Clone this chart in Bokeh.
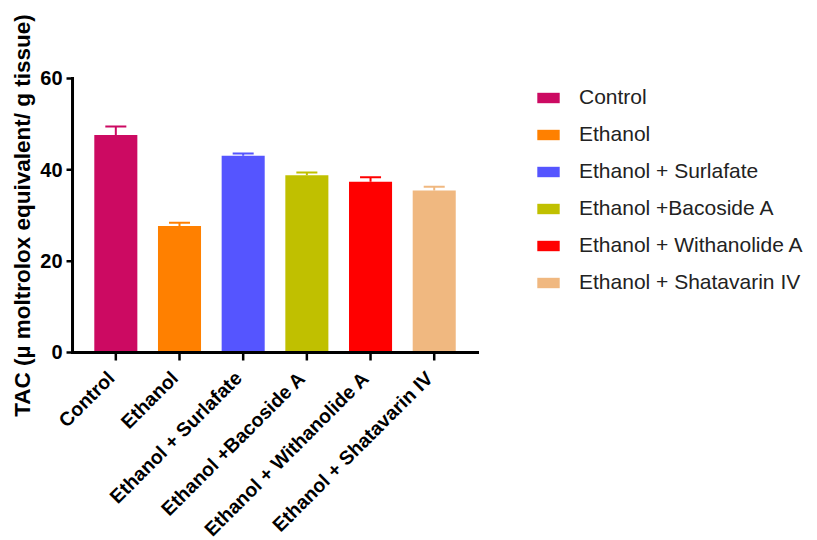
import math

from bokeh.core.properties import value
from bokeh.embed import file_html
from bokeh.resources import INLINE
from bokeh.plotting import figure
from bokeh.models import ColumnDataSource, Legend, LegendItem

# Treatment groups, mean TAC and SEM
groups = ["Control", "Ethanol", "Ethanol + Surlafate", "Ethanol +Bacoside A",
          "Ethanol + Withanolide A", "Ethanol + Shatavarin IV"]
tac_mean = [47.6, 27.7, 43.1, 38.8, 37.4, 35.5]
tac_sem = [1.9, 0.7, 0.5, 0.6, 1.0, 0.8]
colors = ["#cc0a62", "#ff8000", "#5555ff", "#c0c000", "#ff0000", "#f0b880"]
y_ticks = [0, 20, 40, 60]
y_title = "TAC (µ moltrolox equivalent/ g tissue)"

xs = list(range(1, len(groups) + 1))
cap = 0.165

# the axes are drawn by hand so the slanted names can hang past the corner;
# the canvas-wide frame maps x 0.32..6.68 and y 0..60 onto the plotting box
x_lo, x_hi = 0.32, 6.68
y_lo, y_hi = 0, 60
view_x = (-0.811, 12.019)
view_y = (-41.17, 77.08)

src = ColumnDataSource(dict(
    x=xs, top=tac_mean, err_top=[m + s for m, s in zip(tac_mean, tac_sem)],
    cap_l=[x - cap for x in xs], cap_r=[x + cap for x in xs],
    zero=[0] * len(xs), color=colors, group=groups,
))
ysrc = ColumnDataSource(dict(y=y_ticks, lo=[x_lo] * len(y_ticks),
                             lab=[str(t) for t in y_ticks]))

p = figure(width=817, height=540, output_backend="svg", toolbar_location=None,
           x_range=view_x, y_range=view_y,
           x_axis_location=None, y_axis_location=None, min_border=0)
p.outline_line_color = None
p.grid.visible = False
p.background_fill_color = "white"
p.border_fill_color = "white"

bars = p.vbar(x="x", top="top", width=0.676, bottom=0, source=src,
              fill_color="color", line_color=None)

# SEM whiskers, upper half only, in the bar's colour
p.segment(x0="x", y0="top", x1="x", y1="err_top", source=src,
          line_color="color", line_width=2)
p.segment(x0="cap_l", y0="err_top", x1="cap_r", y1="err_top", source=src,
          line_color="color", line_width=2)

font = value("Liberation Sans")

# category axis: base line, outward ticks and slanted group names
p.segment(x0=[x_lo], y0=[y_lo], x1=[x_hi], y1=[y_lo], line_color="black",
          line_width=3, line_cap="square")
p.ray(x="x", y="zero", length=8, length_units="screen", angle=-math.pi / 2,
      source=src, line_color="black", line_width=2.5)
p.text(x="x", y="zero", text="group", source=src, angle=math.pi / 4,
       x_offset=-5, y_offset=22, text_align="right", text_baseline="middle",
       text_font=font, text_font_style="bold", text_font_size="19.5px",
       text_color="black")

# value axis: line, ticks, numbers and rotated title
p.segment(x0=[x_lo], y0=[y_lo], x1=[x_lo], y1=[y_hi], line_color="black",
          line_width=3, line_cap="square")
p.ray(x="lo", y="y", length=6, length_units="screen", angle=math.pi,
      source=ysrc, line_color="black", line_width=2.5)
p.text(x="lo", y="y", text="lab", source=ysrc, x_offset=-10,
       text_align="right", text_baseline="middle",
       text_font=font, text_font_style="bold", text_font_size="20px",
       text_color="black")
p.text(x=[x_lo], y=[(y_lo + y_hi) / 2], text=[y_title], angle=math.pi / 2,
       x_offset=-50, text_align="center", text_baseline="middle",
       text_font=font, text_font_style="bold", text_font_size="22.5px",
       text_color="black")

items = [LegendItem(label=g, renderers=[bars], index=i) for i, g in enumerate(groups)]
legend = Legend(items=items, location=(534, 245), orientation="vertical",
                glyph_width=28, glyph_height=13, label_height=26,
                label_standoff=17, spacing=11, padding=0, margin=0,
                border_line_color=None, background_fill_alpha=0,
                label_text_font="Liberation Sans", label_text_font_size="21px",
                label_text_color="#222222")
p.add_layout(legend, "center")

open("out.html", "w").write(file_html(p, INLINE))
